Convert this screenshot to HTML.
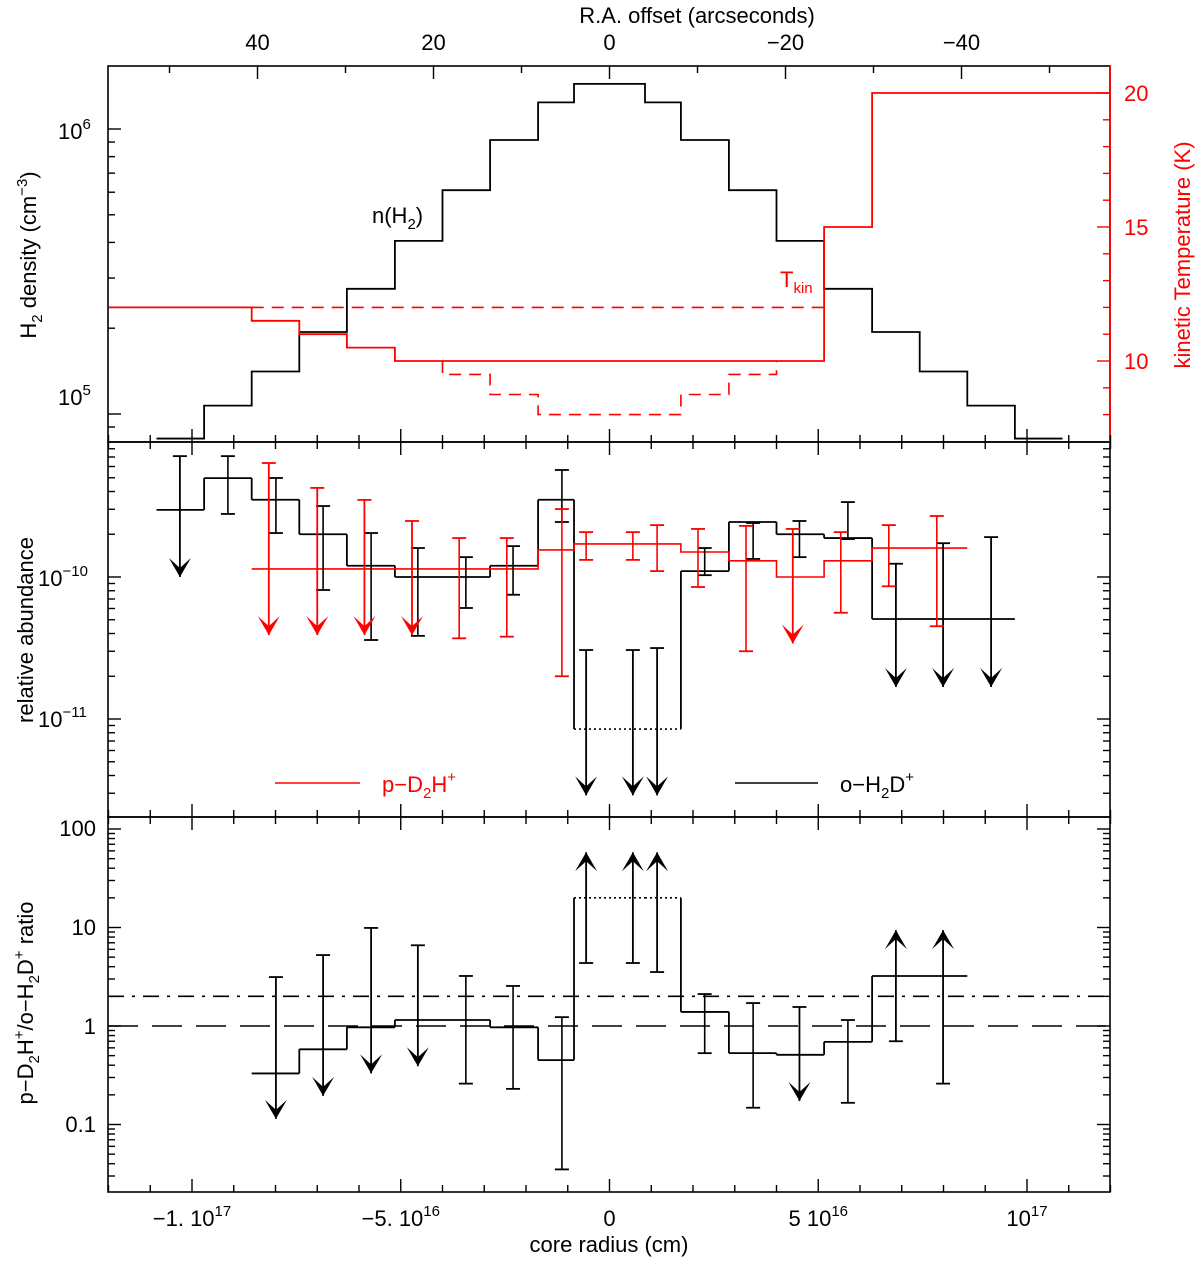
<!DOCTYPE html>
<html><head><meta charset="utf-8">
<style>
html,body{margin:0;padding:0;background:#fff;}
svg{display:block;font-family:"Liberation Sans","DejaVu Sans",sans-serif;}
</style></head>
<body>
<svg id="chart" width="1200" height="1261" viewBox="0 0 1200 1261" xmlns="http://www.w3.org/2000/svg">
<g id="frames"></g>
<g id="marks"></g>
<g id="labels" font-size="22">
  <text x="697" y="23" text-anchor="middle">R.A. offset (arcseconds)</text>
  <text x="609" y="1252" text-anchor="middle">core radius (cm)</text>
  <text transform="translate(36,255) rotate(-90)" text-anchor="middle">H<tspan font-size="15" dy="6">2</tspan><tspan dy="-6"> density (cm</tspan><tspan font-size="15" dy="-9">−3</tspan><tspan dy="9">)</tspan></text>
  <text transform="translate(33,630) rotate(-90)" text-anchor="middle">relative abundance</text>
  <text transform="translate(33,1003) rotate(-90)" text-anchor="middle">p−D<tspan font-size="15" dy="6">2</tspan><tspan dy="-6">H</tspan><tspan font-size="15" dy="-9">+</tspan><tspan dy="9">/o−H</tspan><tspan font-size="15" dy="6">2</tspan><tspan dy="-6">D</tspan><tspan font-size="15" dy="-9">+</tspan><tspan dy="9"> ratio</tspan></text>
  <text fill="#ff0000" transform="translate(1190,255) rotate(-90)" text-anchor="middle">kinetic Temperature (K)</text>
  <text x="58" y="139">10<tspan font-size="15" dy="-10">6</tspan></text>
  <text x="58" y="405">10<tspan font-size="15" dy="-10">5</tspan></text>
  <text x="38" y="586">10<tspan font-size="15" dy="-10">−10</tspan></text>
  <text x="38" y="727">10<tspan font-size="15" dy="-10">−11</tspan></text>
  <text x="96" y="836" text-anchor="end">100</text>
  <text x="96" y="935" text-anchor="end">10</text>
  <text x="96" y="1034" text-anchor="end">1</text>
  <text x="96" y="1132" text-anchor="end">0.1</text>
  <text x="1124" y="101" fill="#ff0000">20</text>
  <text x="1124" y="235" fill="#ff0000">15</text>
  <text x="1124" y="369" fill="#ff0000">10</text>
  <text x="372" y="223">n(H<tspan font-size="15" dy="6">2</tspan><tspan dy="-6">)</tspan></text>
  <text x="780" y="287" fill="#ff0000">T<tspan font-size="15" dy="6">kin</tspan></text>
  <line x1="275" y1="783" x2="360" y2="783" stroke="#ff0000" stroke-width="1.6"/>
  <text x="382" y="792" fill="#ff0000">p−D<tspan font-size="15" dy="6">2</tspan><tspan dy="-6">H</tspan><tspan font-size="15" dy="-10">+</tspan></text>
  <line x1="735" y1="783" x2="818" y2="783" stroke="#000" stroke-width="1.6"/>
  <text x="840" y="792">o−H<tspan font-size="15" dy="6">2</tspan><tspan dy="-6">D</tspan><tspan font-size="15" dy="-10">+</tspan></text>
</g>
</svg>
<script>
// ---- data (x in 1e16 cm) ----
const binEdges = [-10.85,-9.71,-8.57,-7.43,-6.29,-5.14,-4.0,-2.86,-1.71,-0.85,0.85,1.71,2.86,4.0,5.14,6.29,7.43,8.57,9.71,10.85];
const densityValues = [0.082e6,0.107e6,0.141e6,0.194e6,0.275e6,0.405e6,0.61e6,0.915e6,1.24e6,1.44e6,1.24e6,0.915e6,0.61e6,0.405e6,0.275e6,0.194e6,0.141e6,0.107e6,0.082e6];
const tempEdges = [-12.0,-8.57,-7.43,-6.29,-5.14,5.14,6.29,12.0];
const tempValues = [12,11.5,11,10.5,10,15,20];
const tempDashTopEdges = [-8.57,5.14];
const tempDashTopValue = [12];
const tempDashLowEdges = [-4.0,-2.86,-1.71,1.71,2.86,4.0];
const tempDashLowValues = [9.5,8.75,8,8.75,9.5];
// abundances in units of 1e-10
const oh2dEdges = [-10.85,-9.71,-8.57,-7.43,-6.29,-5.14,-4.0,-2.86,-1.71,-0.85,0.85,1.71,2.86,4.0,5.14,6.29,7.43,8.57,9.71];
const oh2dValues = [2.97,4.97,3.5,2.0,1.2,1.0,1.0,1.2,3.5,0.085,0.085,1.1,2.44,2.0,1.88,0.506,0.506,0.506];
const pd2hEdges = [-8.57,-7.43,-6.29,-5.14,-4.0,-2.86,-1.71,-0.85,0.85,1.71,2.86,4.0,5.14,6.29,7.43,8.57];
const pd2hValues = [1.14,1.14,1.14,1.14,1.14,1.14,1.55,1.71,1.71,1.50,1.30,1.0,1.30,1.6,1.6];
const oh2dErrX = [-9.14,-7.99,-6.86,-5.71,-4.59,-3.44,-2.31,-1.14,2.28,3.44,4.55,5.71];
const oh2dErrHi = [7.1,4.98,3.16,2.04,1.6,1.38,1.65,5.67,1.6,2.4,2.48,3.37];
const oh2dErrLo = [2.78,2.04,0.81,0.36,0.385,0.605,0.75,2.44,1.03,1.34,1.38,1.85];
const oh2dLimX = [-10.29,-0.56,0.56,1.14,6.86,7.99,9.14];
const oh2dLimVal = [7.1,0.306,0.306,0.316,1.24,1.73,1.91];
const oh2dLimTip = [1.0,0.029,0.029,0.029,0.168,0.168,0.168];
const pd2hErrX = [-3.6,-2.46,-1.14,-0.56,0.56,1.14,2.12,3.27,5.54,6.69,7.84];
const pd2hErrHi = [1.88,1.88,3.01,2.07,2.07,2.32,2.18,2.29,2.07,2.32,2.69];
const pd2hErrLo = [0.37,0.38,0.20,1.32,1.32,1.10,0.85,0.30,0.56,0.86,0.45];
const pd2hLimX = [-8.16,-7.0,-5.87,-4.73,4.39];
const pd2hLimVal = [6.35,4.24,3.49,2.48,2.18];
const pd2hLimTip = [0.39,0.39,0.39,0.39,0.34];
// ratio
const ratioEdges = [-8.57,-7.43,-6.29,-5.14,-4.0,-2.86,-1.71,-0.85,0.85,1.71,2.86,4.0,5.14,6.29,7.43,8.57];
const ratioValues = [0.33,0.58,0.97,1.15,1.15,0.97,0.45,20,20,1.39,0.53,0.51,0.69,3.22,3.22];
const ratioErrX = [-3.44,-2.31,-1.14,2.28,3.44,5.71];
const ratioErrHi = [3.22,2.55,1.23,2.11,1.71,1.15];
const ratioErrLo = [0.26,0.23,0.035,0.53,0.148,0.166];
const ratioUpX = [-7.99,-6.86,-5.71,-4.59,4.55];
const ratioUpVal = [3.14,5.25,9.9,6.6,1.56];
const ratioUpTip = [0.114,0.195,0.33,0.39,0.173];
const ratioLoX = [-0.56,0.56,1.14,6.86,7.99];
const ratioLoVal = [4.36,4.36,3.53,0.70,0.26];
const ratioLoTip = [58,58,58,9.4,9.4];
const ratioRefLines = [1,2];
const xTickLabels = ["−1. 10","−5. 10","0","5 10","10"];
const xTickExp = ["17","16","","16","17"];
const xTickVals = [-10,-5,0,5,10];
const arcTickVals = [40,20,0,-20,-40];
const arcTickLabels = ["40","20","0","−20","−40"];

// ---- axes ----
const L=108,R=1110,P1T=66,P1B=442,P2B=817,P3B=1192;
const X = c => 609.5 + c*41.75;
const XA = a => 609.5 - a*8.8;
const YD = n => 129 + (6 - Math.log10(n))*285;
const YT = t => 361 - (t-10)*26.8;
const YA = v => 577 - Math.log10(v)*142;
const YR = r => 1026 - Math.log10(r)*98.5;

const NS='http://www.w3.org/2000/svg';
const frames=document.getElementById('frames');
const marks=document.getElementById('marks');
const labels=document.getElementById('labels');
function mk(tag,parent,attrs){const e=document.createElementNS(NS,tag);for(const k in attrs)e.setAttribute(k,attrs[k]);parent.appendChild(e);return e;}
function ln(parent,x1,y1,x2,y2,col,w){return mk('line',parent,{x1:x1,y1:y1,x2:x2,y2:y2,stroke:col,'stroke-width':w});}

// frames
[[P1T,P1B],[P1B,P2B],[P2B,P3B]].forEach((p,i)=>{
  const r=mk('rect',frames,{x:L,y:p[0],width:R-L,height:p[1]-p[0],fill:'none',stroke:'#000','stroke-width':1.6});
  
  
});
const rb=ln(frames,R,P1T,R,P1B,'#ff0000',1.8);



// x ticks (cm)
function cmTicks(y,dir){for(let c=-12;c<=12;c++){const big=c%5===0;const t=ln(frames,X(c),y,X(c),y+dir*(big?13:7),'#000',1.4);}}
cmTicks(P1B,-1);cmTicks(P1B,1);cmTicks(P2B,-1);cmTicks(P2B,1);cmTicks(P3B,-1);
for(let a=-50;a<=50;a+=10){const big=a%20===0;const t=ln(frames,XA(a),P1T,XA(a),P1T+(big?13:7),'#000',1.4);}
// log ticks
function logTicks(f,ytop,ybot,dmin,dmax,sides){
  for(let d=dmin;d<=dmax;d++)for(let m=1;m<=9;m++){const v=m*Math.pow(10,d);const y=f(v);if(y<ytop+1||y>ybot-1)continue;
    sides.forEach(s=>{const len=m===1?13:7;const x0=s==='L'?L:R;const t=ln(frames,x0,y,x0+(s==='L'?len:-len),y,'#000',1.4);});}
}
logTicks(YD,P1T,P1B,4,6,['L']);
logTicks(YA,P1B,P2B,-2,1,['L','R']);
logTicks(YR,P2B,P3B,-2,2,['L','R']);
for(let t=8;t<=20;t++){const big=t%5===0;const e=ln(frames,R,YT(t),R-(big?13:7),YT(t),'#ff0000',1.4);}

// tick labels
xTickVals.forEach((v,i)=>{const t=mk('text',labels,{x:X(v),y:1226,'text-anchor':'middle'});
  t.textContent=xTickLabels[i];if(xTickExp[i]){const s=mk('tspan',t,{'font-size':15,dy:-10});s.textContent=xTickExp[i];}});
arcTickVals.forEach((v,i)=>{const t=mk('text',labels,{x:XA(v),y:50,'text-anchor':'middle'});t.textContent=arcTickLabels[i];});

// helpers
function stepPath(edges,vals,fy){let d='';for(let i=0;i<vals.length;i++){const y=fy(vals[i]);d+=(i===0?'M':'L')+X(edges[i])+','+y+'L'+X(edges[i+1])+','+y;}return d;}
function errBar(x,hi,lo,fy,col,name){const g=mk('g',marks,{stroke:col,'stroke-width':1.6});
  const px=X(x),y1=fy(hi),y2=fy(lo);ln(g,px,y1,px,y2,col,1.6);ln(g,px-7,y1,px+7,y1,col,1.8);ln(g,px-7,y2,px+7,y2,col,1.8);}
function limit(x,val,tip,fy,col,name,cap){const g=mk('g',marks,{});
  const px=X(x),y1=fy(val),y2=fy(tip);ln(g,px,y1,px,y2,col,1.8);if(cap)ln(g,px-7,y1,px+7,y1,col,1.8);
  const s=y2>y1?1:-1;mk('polygon',g,{points:`${px},${y2} ${px-11},${y2-s*19} ${px},${y2-s*9} ${px+11},${y2-s*19}`,fill:col});}

// panel 1
let p=mk('path',marks,{d:stepPath(binEdges,densityValues,YD),fill:'none',stroke:'#000','stroke-width':1.8});


p=mk('path',marks,{d:stepPath(tempEdges,tempValues,YT),fill:'none',stroke:'#ff0000','stroke-width':1.8});


p=mk('path',marks,{d:stepPath(tempDashTopEdges,tempDashTopValue,YT),fill:'none',stroke:'#ff0000','stroke-width':1.6,'stroke-dasharray':'12,8'});


p=mk('path',marks,{d:'M'+X(tempDashLowEdges[0])+','+YT(10)+stepPath(tempDashLowEdges,tempDashLowValues,YT).replace('M','L')+'L'+X(tempDashLowEdges[tempDashLowEdges.length-1])+','+YT(10),fill:'none',stroke:'#ff0000','stroke-width':1.6,'stroke-dasharray':'12,8'});



// panel 2
function splitStep(edges,vals,fy,isDotted,col,name){
  let d='',dd='';let prevY=null;
  for(let i=0;i<vals.length;i++){const y=fy(vals[i]);const x1=X(edges[i]),x2=X(edges[i+1]);
    if(prevY!==null)d+='M'+x1+','+prevY+'L'+x1+','+y;
    if(isDotted(vals[i]))dd+='M'+x1+','+y+'L'+x2+','+y; else d+='M'+x1+','+y+'L'+x2+','+y;
    prevY=y;}
  let e=mk('path',marks,{d:d,fill:'none',stroke:col,'stroke-width':1.8});
  
  
  e=mk('path',marks,{d:dd,fill:'none',stroke:col,'stroke-width':1.6,'stroke-dasharray':'2,3'});
  
  
}
splitStep(oh2dEdges,oh2dValues,YA,v=>v<0.1,'#000','oh2d-step');
p=mk('path',marks,{d:stepPath(pd2hEdges,pd2hValues,YA),fill:'none',stroke:'#ff0000','stroke-width':1.6});


oh2dErrX.forEach((x,i)=>errBar(x,oh2dErrHi[i],oh2dErrLo[i],YA,'#000','oh2d-errorbar'));
oh2dLimX.forEach((x,i)=>limit(x,oh2dLimVal[i],oh2dLimTip[i],YA,'#000','oh2d-upper-limit',true));
pd2hErrX.forEach((x,i)=>errBar(x,pd2hErrHi[i],pd2hErrLo[i],YA,'#ff0000','pd2h-errorbar'));
pd2hLimX.forEach((x,i)=>limit(x,pd2hLimVal[i],pd2hLimTip[i],YA,'#ff0000','pd2h-upper-limit',true));

// panel 3
ratioRefLines.forEach((r,i)=>{const e=ln(marks,L,YR(r),R,YR(r),'#000',1.6);
  e.setAttribute('stroke-dasharray',i===0?'30,14':'16,8,3,8');
  
  });
splitStep(ratioEdges,ratioValues,YR,v=>v>=10,'#000','ratio-step');
ratioErrX.forEach((x,i)=>errBar(x,ratioErrHi[i],ratioErrLo[i],YR,'#000','ratio-errorbar'));
ratioUpX.forEach((x,i)=>limit(x,ratioUpVal[i],ratioUpTip[i],YR,'#000','ratio-upper-limit',true));
ratioLoX.forEach((x,i)=>limit(x,ratioLoVal[i],ratioLoTip[i],YR,'#000','ratio-lower-limit',true));
</script>
</body></html>
